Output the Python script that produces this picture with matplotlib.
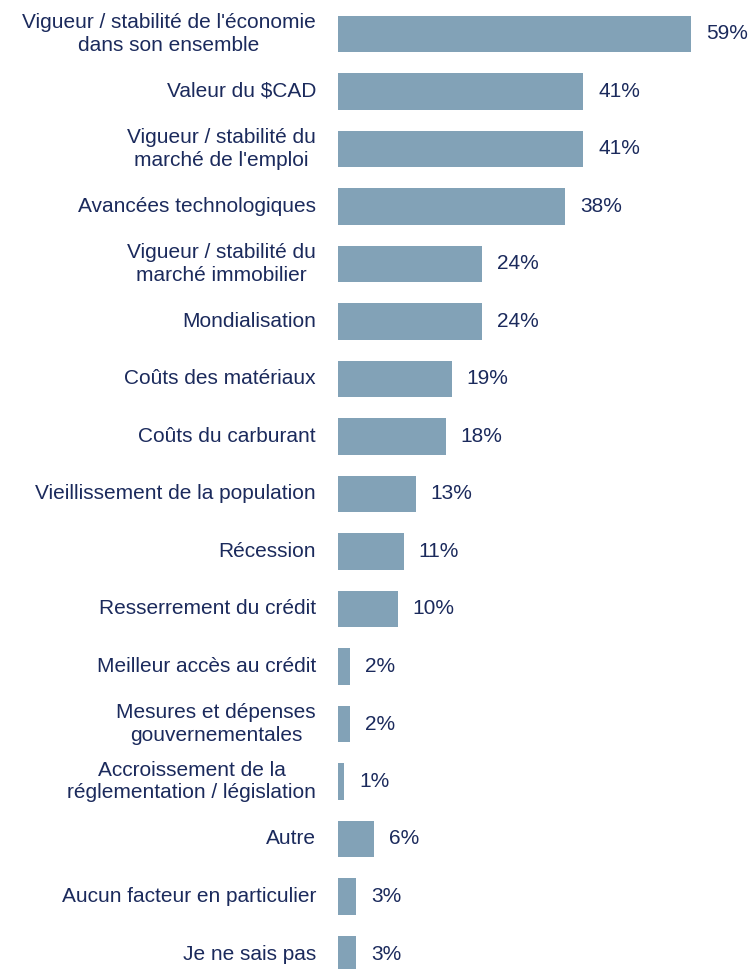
import matplotlib
matplotlib.use("Agg")
import matplotlib.pyplot as plt
from matplotlib.transforms import offset_copy

categories = [
    "Vigueur / stabilité de l'économie\ndans son ensemble",
    "Valeur du $CAD",
    "Vigueur / stabilité du\nmarché de l'emploi",
    "Avancées technologiques",
    "Vigueur / stabilité du\nmarché immobilier",
    "Mondialisation",
    "Coûts des matériaux",
    "Coûts du carburant",
    "Vieillissement de la population",
    "Récession",
    "Resserrement du crédit",
    "Meilleur accès au crédit",
    "Mesures et dépenses\ngouvernementales",
    "Accroissement de la\nréglementation / législation",
    "Autre",
    "Aucun facteur en particulier",
    "Je ne sais pas",
]
values = [59, 41, 41, 38, 24, 24, 19, 18, 13, 11, 10, 2, 2, 1, 6, 3, 3]
value_labels = [f"{v}%" for v in values]

BAR_COLOR = "#82A2B7"
TEXT_COLOR = "#1B2A5C"
FONT = "Liberation Sans"
FS = 15

W, H, DPI = 753, 969, 100
fig = plt.figure(figsize=(W / DPI, H / DPI), dpi=DPI)
ax = fig.add_axes([338 / W, 0, 1 - 338 / W, 1])

pos = list(range(len(categories)))
ax.barh(pos, values, height=0.63, color=BAR_COLOR)
ax.set_xlim(0, 415 / 5.98)
ax.set_ylim((969 - 34) / 57.5, -34 / 57.5)
ax.axis("off")

lab_tr = offset_copy(ax.transData, fig=fig, x=-22, y=0, units="dots")
val_tr = offset_copy(ax.transData, fig=fig, x=15, y=0, units="dots")
for p, cat, v, vl in zip(pos, categories, values, value_labels):
    ax.text(0, p, cat, transform=lab_tr, ha="right", va="center",
            multialignment="center", fontsize=FS, family=FONT,
            color=TEXT_COLOR, linespacing=1.25, clip_on=False)
    ax.text(v, p, vl, transform=val_tr, ha="left", va="center",
            fontsize=FS, family=FONT, color=TEXT_COLOR, clip_on=False)

fig.savefig("out.png", dpi=DPI)
